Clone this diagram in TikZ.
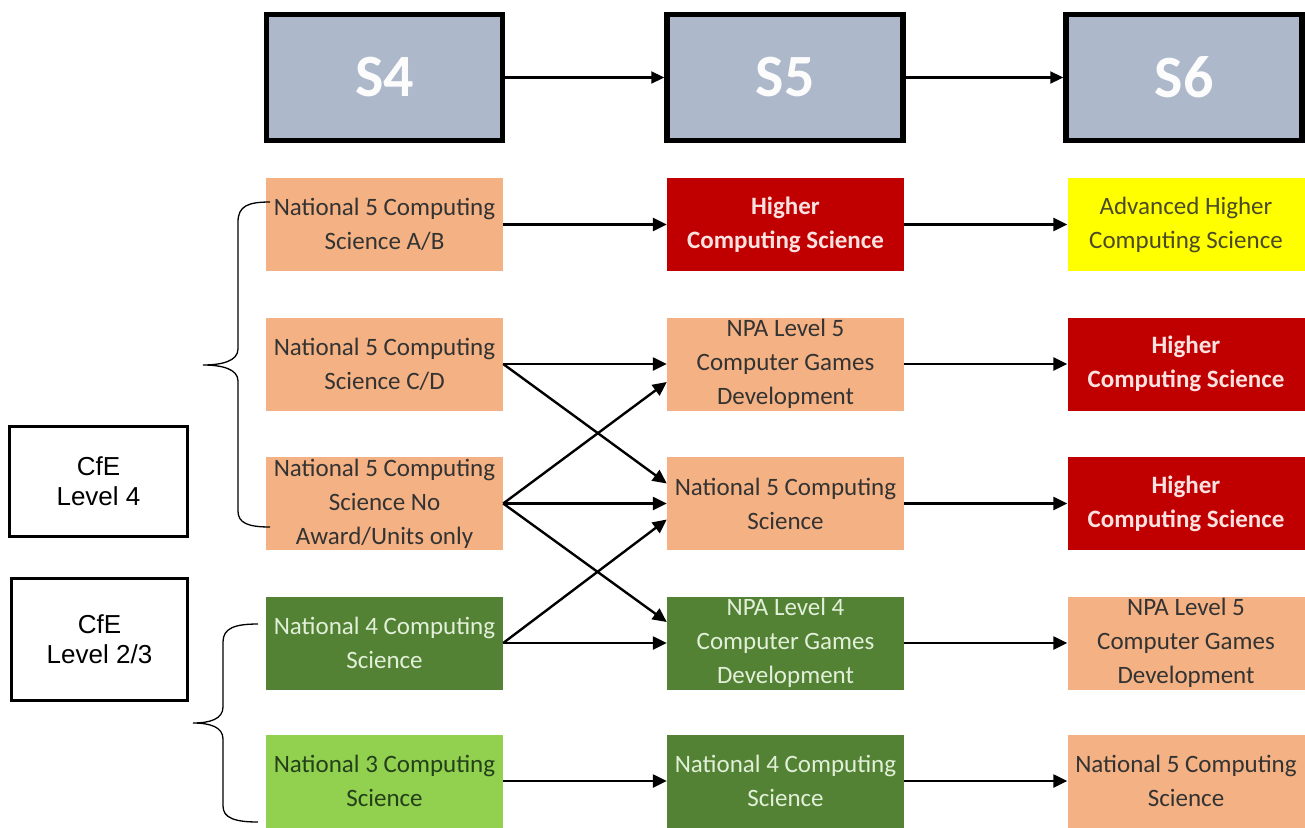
\documentclass[tikz,border=0pt]{standalone}
\usepackage{fontspec}
\setmainfont{Carlito}
\newfontfamily\arialfont{Liberation Sans}
\usetikzlibrary{arrows.meta}

\definecolor{hdrfill}{HTML}{ADB9CA}
\definecolor{peach}{HTML}{F4B183}
\definecolor{hired}{HTML}{C00000}
\definecolor{ahyellow}{HTML}{FFFF00}
\definecolor{dkgreen}{HTML}{548235}
\definecolor{ltgreen}{HTML}{92D050}
\definecolor{peachtext}{HTML}{333333}
\definecolor{redtext}{HTML}{FBE2E0}
\definecolor{dkgreentext}{HTML}{E2F0D9}
\definecolor{ltgreentext}{HTML}{24401A}
\definecolor{yellowtext}{HTML}{4A4A26}

\begin{document}
\begin{tikzpicture}[x=1pt,y=-1pt,
  hdr/.style={draw=black, line width=5.5pt, fill=hdrfill, minimum width=236pt,
    minimum height=126pt, inner sep=0pt, text=white!96!hdrfill,
    font=\fontsize{60}{60}\selectfont\bfseries},
  pbox/.style={minimum width=237pt, minimum height=93pt, inner sep=0pt,
    align=center, font=\fontsize{25}{34}\selectfont},
  n5/.style={pbox, fill=peach, text=peachtext},
  hi/.style={pbox, fill=hired, text=redtext, font=\fontsize{25}{34}\selectfont\bfseries},
  ah/.style={pbox, fill=ahyellow, text=yellowtext},
  n4/.style={pbox, fill=dkgreen, text=dkgreentext},
  n3/.style={pbox, fill=ltgreen, text=ltgreentext},
  link/.style={line width=2.4pt, -{Triangle[length=14pt,width=13pt]}},
  hlink/.style={line width=2.2pt, -{Triangle[length=13pt,width=12pt]}},
  cfe/.style={draw=black, line width=3pt, inner sep=0pt, align=center,
    font=\arialfont\fontsize{26}{30}\selectfont},
  brace/.style={draw=black, line width=1.3pt}
]
\useasboundingbox (0,0) rectangle (1305,827);

% year headers
\node[hdr] (s4) at (384.5,77.5) {S4};
\node[hdr] (s5) at (785,77.5) {S5};
\node[hdr] (s6) at (1184,77.5) {S6};
\draw[hlink] (s4) -- (s5);
\draw[hlink] (s5) -- (s6);

% S4 courses
\node[n5] (a1) at (384.5,224.5) {National 5 Computing\\Science A/B};
\node[n5] (a2) at (384.5,364) {National 5 Computing\\Science C/D};
\node[n5] (a3) at (384.5,503.5) {National 5 Computing\\Science No\\Award/Units only};
\node[n4] (a4) at (384.5,643) {National 4 Computing\\Science};
\node[n3] (a5) at (384.5,781) {National 3 Computing\\Science};

% S5 courses
\node[hi] (b1) at (785.5,224.5) {Higher\\Computing Science};
\node[n5] (b2) at (785.5,364) {NPA Level 5\\Computer Games\\Development};
\node[n5] (b3) at (785.5,503.5) {National 5 Computing\\Science};
\node[n4] (b4) at (785.5,643) {NPA Level 4\\Computer Games\\Development};
\node[n4] (b5) at (785.5,781) {National 4 Computing\\Science};

% S6 courses
\node[ah] (c1) at (1186,224.5) {Advanced Higher\\Computing Science};
\node[hi] (c2) at (1186,364) {Higher\\Computing Science};
\node[hi] (c3) at (1186,503.5) {Higher\\Computing Science};
\node[n5] (c4) at (1186,643) {NPA Level 5\\Computer Games\\Development};
\node[n5] (c5) at (1186,781) {National 5 Computing\\Science};

% S4 -> S5 progression
\draw[link] (a1.east) -- (b1.west);
\draw[link] (a2.east) -- (b2.west);
\draw[link] (a2.east) -- ([yshift=20pt]b3.west);
\draw[link] (a3.east) -- ([yshift=-18pt]b2.west);
\draw[link] (a3.east) -- (b3.west);
\draw[link] (a3.east) -- ([yshift=21pt]b4.west);
\draw[link] (a4.east) -- ([yshift=-16pt]b3.west);
\draw[link] (a4.east) -- (b4.west);
\draw[link] (a5.east) -- (b5.west);

% S5 -> S6 progression
\draw[link] (b1.east) -- (c1.west);
\draw[link] (b2.east) -- (c2.west);
\draw[link] (b3.east) -- (c3.west);
\draw[link] (b4.east) -- (c4.west);
\draw[link] (b5.east) -- (c5.west);

% CfE level labels
\node[cfe, minimum width=178pt, minimum height=110pt] (l4) at (98.5,481.5) {CfE\\Level 4};
\node[cfe, minimum width=176pt, minimum height=122pt] (l23) at (99.5,639.5) {CfE\\Level 2/3};

% braces grouping the S4 courses
\draw[brace] (270,202) .. controls (248,202) and (238,206) .. (238,222)
  -- (238,349) .. controls (238,361) and (222,365) .. (203,365)
  .. controls (222,365) and (238,369) .. (238,381)
  -- (238,511) .. controls (238,523) and (248,527) .. (270,527);
\draw[brace] (258,624) .. controls (235,624) and (223,628) .. (223,642)
  -- (223,707) .. controls (223,719) and (210,723) .. (193,723)
  .. controls (210,723) and (223,727) .. (223,739)
  -- (223,806) .. controls (223,818) and (235,822) .. (258,822);
\end{tikzpicture}
\end{document}
